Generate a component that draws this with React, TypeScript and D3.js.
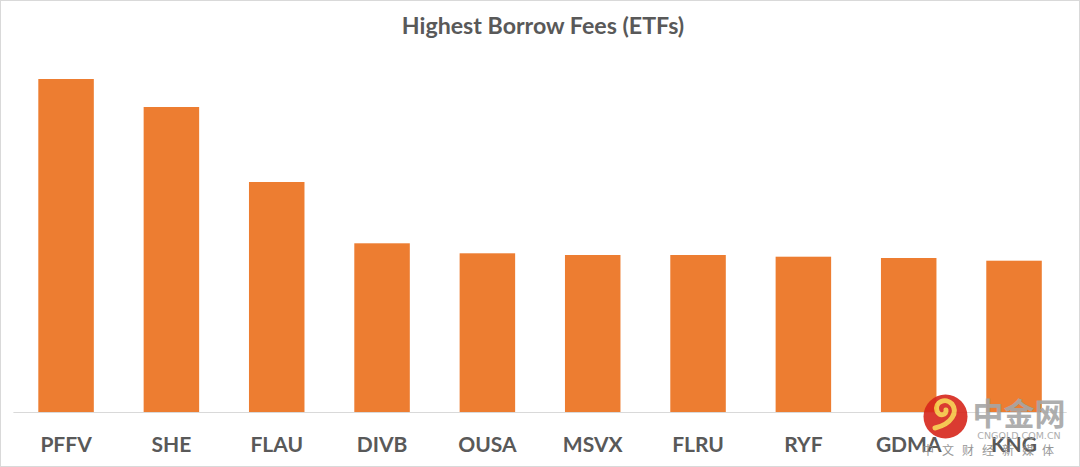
import React from "react";
import * as d3 from "d3";

const categories = ["PFFV", "SHE", "FLAU", "DIVB", "OUSA", "MSVX", "FLRU", "RYF", "GDMA", "KNG"];
const fees = [33.3, 30.5, 23.0, 16.87, 15.87, 15.7, 15.7, 15.53, 15.4, 15.13];
const title = "Highest Borrow Fees (ETFs)";

const W = 1080;
const H = 467;
const FONT = "Lato, 'Open Sans', sans-serif";

export default function App() {
  const x = d3
    .scaleBand<string>()
    .domain(categories)
    .range([13.4, 1066.7])
    .paddingInner(0.473)
    .paddingOuter(0.2365);
  const y = d3.scaleLinear().domain([0, 35]).range([412, 62]);

  return (
    <svg
      width={W}
      height={H}
      style={{ position: "absolute", left: 0, top: 0, display: "block" }}
    >
      <rect x={0.5} y={0.5} width={W - 1} height={H - 1} fill="#fff" stroke="#d9d9d9" strokeWidth={1} />
      <text
        x={543}
        y={33.5}
        textAnchor="middle"
        fontFamily={FONT}
        fontWeight={700}
        fontSize={23.2}
        fill="#595959"
      >
        {title}
      </text>
      {categories.map((c, i) => (
        <rect
          key={c}
          x={x(c)}
          y={y(fees[i])}
          width={x.bandwidth()}
          height={y(0) - y(fees[i])}
          fill="#ed7d31"
        />
      ))}
      <line x1={13.4} x2={1066.7} y1={412.5} y2={412.5} stroke="#d9d9d9" strokeWidth={1} />
      {categories.map((c) => (
        <text
          key={c}
          x={(x(c) ?? 0) + x.bandwidth() / 2}
          y={452}
          textAnchor="middle"
          fontFamily={FONT}
          fontWeight={700}
          fontSize={21}
          fill="#595959"
        >
          {c}
        </text>
      ))}
      <g opacity={0.9}>
        <circle cx={945.5} cy={416.5} r={22} fill="#d7261b" />
        <path
          d="M935,428 C952,424 958,412 952,404 C946,397 934,402 937,411 C939,417 947,415 946,410"
          fill="none"
          stroke="#f5c242"
          strokeWidth={5}
          strokeLinecap="round"
        />
        <text x={1019} y={425} textAnchor="middle" fontFamily="'Noto Sans CJK SC', sans-serif" fontWeight={700} fontSize={31} fill="#a6a6a6">
          中金网
        </text>
        <text x={1019} y={439} textAnchor="middle" fontFamily="'DejaVu Sans', sans-serif" fontSize={9.5} fill="#a6a6a6">
          CNGOLD.COM.CN
        </text>
        <text x={1062} y={455} textAnchor="end" fontFamily="'Noto Sans CJK SC', sans-serif" fontSize={12} letterSpacing={8} fill="#8c8c8c">
          中文财经新媒体
        </text>
      </g>
    </svg>
  );
}
